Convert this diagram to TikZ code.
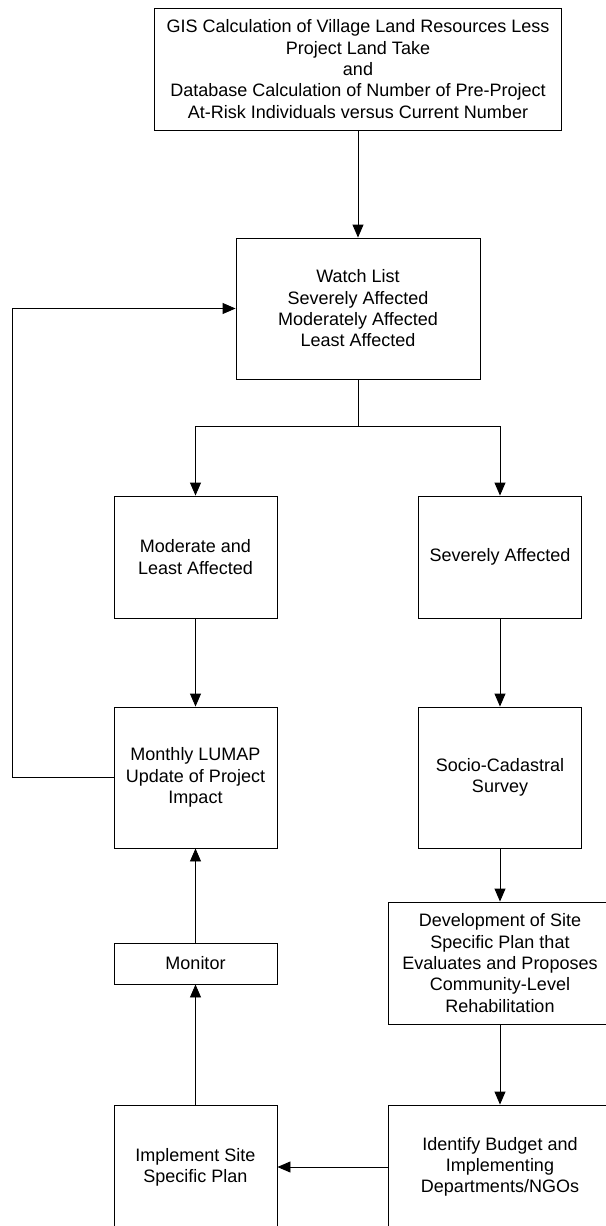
\documentclass[tikz,border=0pt]{standalone}
\usepackage{fontspec}
\setmainfont{Liberation Sans}
\usetikzlibrary{arrows.meta}

\begin{document}
\begin{tikzpicture}[x=1pt,y=-1pt,
  box/.style={draw, line width=0.9pt, inner sep=0pt, align=center,
    font=\fontsize{18}{21.3}\selectfont},
  flow/.style={line width=0.9pt, -{Triangle[length=13pt,width=11pt]}},
  link/.style={line width=0.9pt}]
\useasboundingbox (0,0) rectangle (605,1226);

\node[box, minimum width=407, minimum height=122] (gis) at (358,69)
  {GIS Calculation of Village Land Resources Less\\Project Land Take\\and\\
   Database Calculation of Number of Pre-Project\\At-Risk Individuals versus Current Number};
\node[box, minimum width=244, minimum height=141] (watch) at (358,308.5)
  {Watch List\\Severely Affected\\Moderately Affected\\Least Affected};

\node[box, minimum width=163, minimum height=122] (moderate) at (195.5,557)
  {Moderate and\\Least Affected};
\node[box, minimum width=163, minimum height=122] (severe) at (500,557)
  {Severely Affected};

\node[box, minimum width=163, minimum height=141] (monthly) at (195.5,777.5)
  {Monthly LUMAP\\Update of Project\\Impact};
\node[box, minimum width=163, minimum height=141] (socio) at (500,777.5)
  {Socio-Cadastral\\Survey};

\node[box, minimum width=163, minimum height=41] (monitor) at (195.5,963.5) {Monitor};
\node[box, minimum width=224, minimum height=122] (devel) at (500,963)
  {Development of Site\\Specific Plan that\\Evaluates and Proposes\\Community-Level\\Rehabilitation};

\node[box, minimum width=163, minimum height=124] (implement) at (195.5,1167)
  {Implement Site\\Specific Plan};
\node[box, minimum width=224, minimum height=124] (identify) at (500,1167)
  {Identify Budget and\\Implementing\\Departments/NGOs};

\coordinate (split) at (358,426);
\coordinate (loop) at (12.7,777.5);

% main line
\draw[flow] (gis) -- (watch);
\draw[link] (watch) -- (split);
\draw[flow] (split) -| (moderate);
\draw[flow] (split) -| (severe);

% left branch
\draw[flow] (moderate) -- (monthly);
\draw[flow] (monthly) -- (loop) |- (watch);
\draw[flow] (monitor) -- (monthly);
\draw[flow] (implement) -- (monitor);

% right branch
\draw[flow] (severe) -- (socio);
\draw[flow] (socio) -- (devel);
\draw[flow] (devel) -- (identify);
\draw[flow] (identify) -- (implement);

\end{tikzpicture}
\end{document}
